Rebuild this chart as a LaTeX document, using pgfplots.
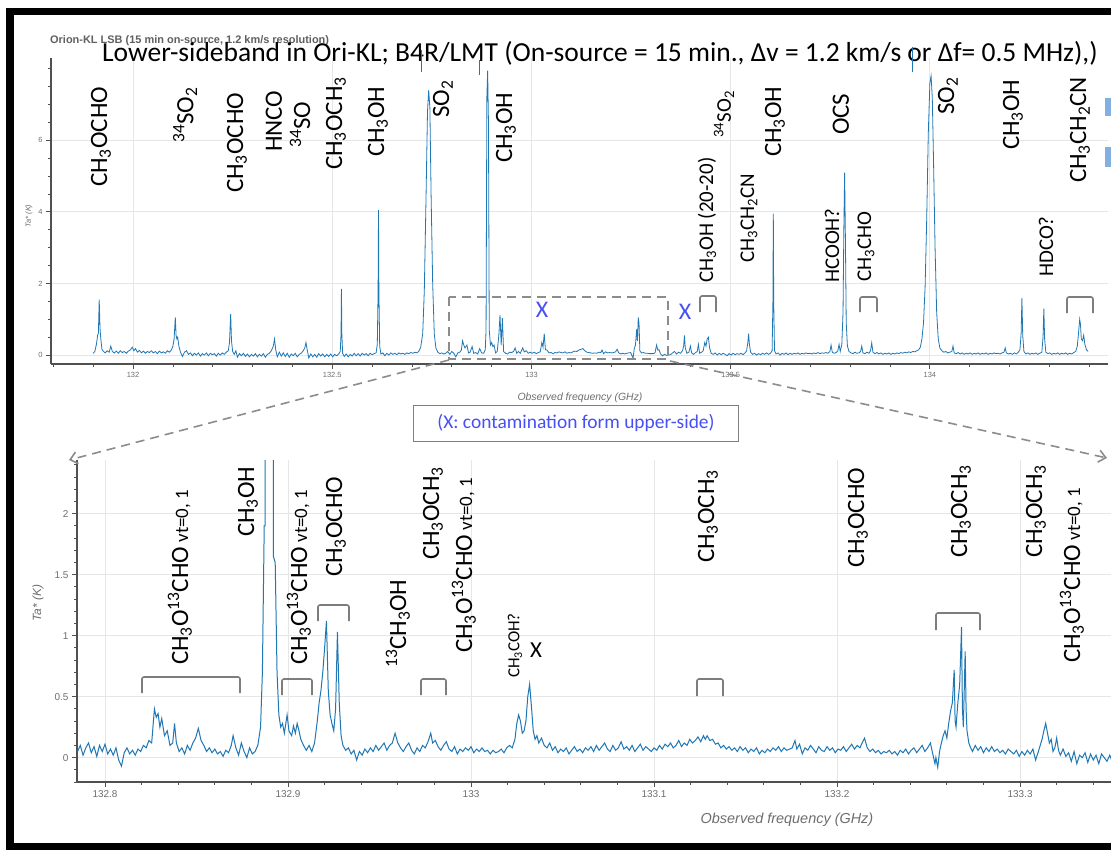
\documentclass[border=0pt]{standalone}
\usepackage{pgfplots}
\pgfplotsset{compat=1.18}
\usepackage{fontspec}
\setmainfont{Carlito}
\newfontfamily\hv{Liberation Sans}
\usetikzlibrary{arrows.meta}
\definecolor{spec}{RGB}{31,119,180}
\definecolor{xblue}{RGB}{70,80,245}
\definecolor{brk}{RGB}{125,125,125}
\definecolor{axgray}{RGB}{80,80,80}
\definecolor{gridc}{RGB}{230,230,230}
\definecolor{tlab}{RGB}{110,110,110}
\newcommand{\sm}[1]{\textsubscript{#1}}
\newcommand{\su}[1]{\textsuperscript{#1}}
\newcommand{\LF}{\fontsize{25}{25}\selectfont}
\newcommand{\VL}[3]{\node[rotate=90,anchor=west,inner sep=0pt,font=\LF] at (#1,#2) {#3};}
\newcommand{\VS}[3]{\node[rotate=90,anchor=west,inner sep=0pt,font=\fontsize{21}{21}\selectfont] at (#1,#2) {#3};}
\newcommand{\VT}{{\fontsize{19}{19}\selectfont\ vt=0, 1}}
\newcommand{\BR}[4]{\draw[brk,line width=1.6bp,rounded corners=2bp] (#1,#4) -- (#1,#3) -- (#2,#3) -- (#2,#4);}
\pgfplotsset{
  bk/.style={
    scale only axis,
    axis x line*=bottom, axis y line*=left,
    axis line style={axgray, line width=1.3bp},
    tick align=outside,
    major tick length=5bp, minor tick length=3bp,
    every tick/.style={axgray, line width=0.8bp},
    grid=major, major grid style={gridc, line width=0.9bp},
    tick label style={text=tlab},
    /pgf/number format/assume math mode=true,
    /pgf/number format/fixed, /pgf/number format/precision=1,
    /pgf/number format/1000 sep={},
  },
}
\begin{document}
\begin{tikzpicture}
\useasboundingbox (0,0) rectangle (1111bp,-850bp);
\fill[white] (0,0) rectangle (1111bp,-850bp);
% ---------------- top spectrum
\begin{axis}[bk, at={(51bp,-364bp)}, anchor=south west, width=1057bp, height=306bp,
  xmin=131.794, xmax=134.447, ymin=-0.25, ymax=8.3,
  xtick={132,132.5,133,133.5,134},
  minor xtick={131.8,131.9,132.1,132.2,132.3,132.4,132.6,132.7,132.8,132.9,133.1,133.2,133.3,133.4,133.6,133.7,133.8,133.9,134.1,134.2,134.3,134.4},
  ytick={0,2,4,6},
  minor ytick={0.5,1,1.5,2.5,3,3.5,4.5,5,5.5,6.5,7,7.5,8},
  tick label style={font=\hv\fontsize{7.5}{8}\selectfont}]
\addplot[spec, line width=0.8bp] coordinates {
(131.900,0.05)(131.904,0.10)(131.908,0.30)(131.911,0.55)(131.913,0.62)(131.915,1.55)(131.917,0.75)(131.919,0.45)(131.922,0.15)(131.926,0.10)(131.930,0.06)(131.935,0.12)(131.940,0.08)(131.944,0.25)(131.948,0.10)(131.953,0.06)(131.958,0.11)(131.963,0.05)(131.968,0.12)(131.973,0.07)(131.978,0.10)(131.983,0.05)(131.988,0.11)(131.993,0.14)(131.998,0.22)(132.002,0.12)(132.006,0.18)(132.011,0.08)(132.016,0.13)(132.021,0.06)(132.026,0.11)(132.031,0.05)(132.036,0.10)(132.041,0.07)(132.046,0.12)(132.051,0.06)(132.056,0.10)(132.061,0.04)(132.066,0.11)(132.071,0.06)(132.076,0.09)(132.081,0.05)(132.086,0.12)(132.091,0.08)(132.096,0.14)(132.100,0.25)(132.103,0.45)(132.106,1.05)(132.108,0.55)(132.110,0.45)(132.112,0.50)(132.115,0.25)(132.119,0.08)(132.124,-0.04)(132.129,0.08)(132.134,0.12)(132.139,0.02)(132.144,0.06)(132.149,-0.02)(132.154,0.05)(132.159,0.00)(132.164,0.06)(132.169,-0.03)(132.174,0.04)(132.179,0.00)(132.184,0.06)(132.189,-0.02)(132.194,0.05)(132.199,0.01)(132.204,0.04)(132.209,-0.03)(132.214,0.05)(132.219,0.00)(132.224,0.06)(132.229,0.02)(132.234,0.08)(132.239,0.12)(132.242,0.35)(132.245,1.15)(132.247,0.40)(132.250,0.10)(132.254,0.02)(132.258,0.12)(132.262,-0.06)(132.267,0.04)(132.272,-0.02)(132.277,0.05)(132.282,-0.04)(132.287,0.03)(132.292,-0.05)(132.297,0.02)(132.302,-0.03)(132.307,0.04)(132.312,-0.05)(132.317,0.02)(132.322,-0.03)(132.327,0.04)(132.332,-0.06)(132.337,0.02)(132.342,0.05)(132.347,0.12)(132.352,0.25)(132.355,0.45)(132.358,0.15)(132.362,-0.05)(132.367,0.08)(132.372,-0.03)(132.377,0.06)(132.382,-0.04)(132.387,0.05)(132.392,-0.06)(132.397,0.03)(132.402,-0.02)(132.407,0.05)(132.412,-0.05)(132.417,0.02)(132.422,0.05)(132.427,0.12)(132.431,0.20)(132.434,0.35)(132.437,0.15)(132.441,-0.08)(132.446,0.03)(132.451,-0.05)(132.456,0.02)(132.461,-0.06)(132.466,0.04)(132.471,-0.03)(132.476,0.03)(132.481,-0.05)(132.486,0.02)(132.491,-0.04)(132.496,0.03)(132.501,-0.05)(132.506,0.02)(132.511,-0.02)(132.516,0.03)(132.520,0.10)(132.522,0.60)(132.523,1.85)(132.524,0.60)(132.526,0.05)(132.530,-0.04)(132.535,0.03)(132.540,-0.05)(132.545,0.02)(132.550,-0.03)(132.555,0.05)(132.560,-0.02)(132.565,0.04)(132.570,-0.03)(132.575,0.05)(132.580,0.00)(132.585,0.04)(132.590,-0.02)(132.595,0.05)(132.600,0.01)(132.605,0.04)(132.610,0.06)(132.613,0.30)(132.615,1.80)(132.616,4.05)(132.617,1.80)(132.619,0.25)(132.622,0.03)(132.627,0.06)(132.632,-0.02)(132.637,0.05)(132.642,0.00)(132.647,0.06)(132.652,0.02)(132.657,0.05)(132.662,0.01)(132.667,0.06)(132.672,0.03)(132.677,0.05)(132.682,0.02)(132.687,0.06)(132.692,0.04)(132.697,0.07)(132.702,0.05)(132.707,0.08)(132.712,0.06)(132.717,0.10)(132.722,0.22)(132.727,0.60)(132.731,1.80)(132.735,4.20)(132.739,6.80)(132.742,7.40)(132.745,6.90)(132.748,4.50)(132.752,2.00)(132.756,0.60)(132.760,0.20)(132.765,0.08)(132.770,0.04)(132.775,0.06)(132.780,0.03)
(132.785,0.05)(132.790,0.10)(132.795,0.02)(132.800,0.10)(132.805,0.05)(132.810,-0.05)(132.815,0.06)(132.820,0.08)(132.824,0.14)(132.827,0.40)(132.830,0.28)(132.833,0.20)(132.838,0.28)(132.842,0.06)(132.846,0.08)(132.851,0.24)(132.855,0.05)(132.860,0.07)(132.865,0.03)(132.870,0.18)(132.875,0.06)(132.880,0.05)(132.884,0.15)(132.886,0.70)(132.888,7.2)(132.890,7.95)(132.892,6.5)(132.894,0.70)(132.897,0.28)(132.900,0.35)(132.903,0.24)(132.906,0.28)(132.910,0.06)(132.914,0.10)(132.918,0.55)(132.921,1.12)(132.924,0.28)(132.927,1.03)(132.930,0.10)(132.935,0.05)(132.940,0.03)(132.945,0.08)(132.950,0.07)(132.955,0.10)(132.959,0.20)(132.963,0.05)(132.967,0.10)(132.972,0.05)(132.978,0.20)(132.982,0.09)(132.987,0.12)(132.992,0.05)(132.997,0.08)(133.002,0.05)(133.007,0.08)(133.012,0.04)(133.017,0.07)(133.022,0.09)(133.026,0.35)(133.029,0.22)(133.032,0.60)(133.035,0.15)(133.039,0.14)(133.044,0.06)(133.049,0.07)(133.054,0.04)(133.059,0.07)(133.064,0.06)(133.069,0.09)(133.074,0.07)(133.079,0.06)(133.084,0.09)(133.089,0.05)(133.094,0.07)(133.099,0.06)(133.104,0.09)(133.109,0.11)(133.114,0.10)(133.119,0.14)(133.124,0.16)(133.129,0.18)(133.134,0.12)(133.139,0.08)(133.144,0.07)(133.149,0.06)(133.154,0.05)(133.159,0.06)(133.164,0.05)(133.169,0.08)(133.174,0.07)(133.177,0.14)(133.181,0.04)(133.186,0.09)(133.191,0.06)(133.196,0.07)(133.201,0.06)(133.206,0.07)(133.211,0.09)(133.215,0.16)(133.219,0.06)(133.224,0.03)(133.229,0.05)(133.234,0.03)(133.239,0.05)(133.244,0.06)(133.249,0.07)(133.253,-0.04)(133.255,-0.08)(133.258,0.18)(133.261,0.28)(133.264,0.72)(133.266,0.40)(133.268,1.05)(133.270,0.87)(133.272,0.12)(133.276,0.06)(133.281,0.07)(133.286,0.05)(133.291,0.05)(133.296,0.04)(133.301,0.04)(133.306,0.04)(133.310,0.06)(133.314,0.28)(133.317,0.14)(133.320,0.15)(133.324,0.03)(133.329,-0.02)(133.334,0.02)(133.339,-0.01)(133.344,0.00)(133.349,0.01)
(133.354,0.06)(133.359,0.10)(133.364,0.03)(133.369,0.08)(133.374,0.05)(133.379,0.12)(133.382,0.25)(133.384,0.55)(133.386,0.20)(133.390,0.05)(133.395,0.08)(133.399,0.25)(133.402,0.06)(133.407,0.02)(133.412,0.07)(133.416,0.10)(133.419,0.30)(133.422,0.05)(133.427,0.08)(133.431,0.12)(133.435,0.35)(133.438,0.25)(133.441,0.45)(133.444,0.50)(133.447,0.20)(133.451,0.05)(133.456,0.02)(133.461,0.06)(133.466,0.00)(133.471,0.05)(133.476,0.01)(133.481,0.05)(133.486,0.02)(133.491,-0.02)(133.496,0.04)(133.501,0.00)(133.506,0.05)(133.511,0.01)(133.516,0.04)(133.521,0.02)(133.526,0.05)(133.531,0.01)(133.536,0.06)(133.540,0.12)(133.543,0.35)(133.545,0.60)(133.547,0.30)(133.550,0.08)(133.555,0.02)(133.560,0.05)(133.565,0.00)(133.570,0.04)(133.575,0.01)(133.580,0.05)(133.585,0.02)(133.590,0.06)(133.595,0.02)(133.600,0.05)(133.604,0.12)(133.606,1.50)(133.607,3.95)(133.608,1.50)(133.610,0.12)(133.614,0.03)(133.619,0.06)(133.624,0.00)(133.629,0.05)(133.634,0.02)(133.639,0.06)(133.644,0.01)(133.649,0.05)(133.654,0.02)(133.659,0.05)(133.664,0.03)(133.669,0.06)(133.674,0.02)(133.679,0.05)(133.684,0.03)(133.689,0.06)(133.694,0.04)(133.699,0.05)(133.704,0.03)(133.709,0.06)(133.714,0.04)(133.719,0.07)(133.724,0.04)(133.729,0.06)(133.734,0.05)(133.739,0.07)(133.744,0.05)(133.749,0.10)(133.752,0.28)(133.755,0.08)(133.760,0.05)(133.765,0.07)(133.769,0.12)(133.772,0.30)(133.775,0.10)(133.779,0.30)(133.782,1.20)(133.784,3.50)(133.786,5.10)(133.788,3.20)(133.790,0.90)(133.793,0.25)(133.797,0.10)(133.802,0.06)(133.807,0.04)(133.812,0.08)(133.816,0.05)(133.822,0.06)(133.826,0.10)(133.829,0.25)(133.832,0.06)(133.837,0.04)(133.842,0.08)(133.847,0.05)(133.851,0.12)(133.854,0.34)(133.857,0.08)(133.862,0.04)(133.867,0.07)(133.872,0.03)(133.877,0.06)(133.882,0.02)(133.887,0.05)(133.892,0.03)(133.897,0.06)(133.902,0.02)(133.907,0.05)(133.912,0.03)(133.917,0.06)(133.922,0.04)(133.927,0.07)(133.932,0.05)(133.937,0.08)(133.942,0.06)(133.947,0.09)(133.952,0.07)(133.957,0.10)(133.962,0.09)(133.967,0.12)(133.972,0.15)(133.976,0.22)(133.980,0.45)(133.984,0.90)(133.988,1.90)(133.992,3.80)(133.996,6.20)(134.000,7.60)(134.003,7.80)(134.006,7.20)(134.009,5.50)(134.013,3.00)(134.017,1.20)(134.021,0.45)(134.025,0.20)(134.030,0.12)(134.035,0.08)(134.040,0.10)(134.045,0.06)(134.050,0.08)(134.055,0.10)(134.058,0.25)(134.061,0.06)(134.066,0.04)(134.071,0.07)(134.076,0.03)(134.081,0.06)(134.086,0.02)(134.091,0.05)(134.096,0.03)(134.101,0.06)(134.106,0.02)(134.111,0.05)(134.116,0.03)(134.121,0.06)(134.126,0.02)(134.131,0.05)(134.136,0.03)(134.141,0.06)(134.146,0.02)(134.151,0.05)(134.156,0.03)(134.161,0.06)(134.166,0.04)(134.171,0.05)(134.176,0.03)(134.181,0.06)(134.186,0.08)(134.189,0.20)(134.192,0.06)(134.197,0.03)(134.202,0.05)(134.207,0.02)(134.212,0.06)(134.217,0.03)(134.222,0.08)(134.226,0.15)(134.229,0.60)(134.231,1.60)(134.233,0.55)(134.236,0.10)(134.241,0.03)(134.246,0.06)(134.251,0.02)(134.256,0.05)(134.261,0.03)(134.266,0.06)(134.271,0.02)(134.276,0.05)(134.281,0.08)(134.284,0.50)(134.286,1.30)(134.288,0.45)(134.291,0.08)(134.296,0.04)(134.301,0.06)(134.306,0.02)(134.311,0.05)(134.316,0.03)(134.321,0.06)(134.326,0.02)(134.331,0.05)(134.336,0.03)(134.341,0.06)(134.346,0.02)(134.351,0.05)(134.356,0.03)(134.361,0.07)(134.366,0.10)(134.370,0.25)(134.373,0.60)(134.376,1.00)(134.378,0.85)(134.380,0.45)(134.383,0.40)(134.386,0.55)(134.389,0.30)(134.393,0.15)(134.397,0.10)
};
\end{axis}
% ---------------- bottom zoom
\begin{axis}[bk, at={(77bp,-782bp)}, anchor=south west, width=1034bp, height=322bp,
  xmin=132.7847, xmax=133.3497, ymin=-0.2, ymax=2.44,
  xtick={132.8,132.9,133,133.1,133.2,133.3},
  minor xtick={132.82,132.84,132.86,132.88,132.92,132.94,132.96,132.98,133.02,133.04,133.06,133.08,133.12,133.14,133.16,133.18,133.22,133.24,133.26,133.28,133.32,133.34},
  ytick={0,0.5,1,1.5,2},
  minor ytick={-0.2,-0.1,0.1,0.2,0.3,0.4,0.6,0.7,0.8,0.9,1.1,1.2,1.3,1.4,1.6,1.7,1.8,1.9,2.1,2.2,2.3,2.4},
  tick label style={font=\hv\fontsize{10}{11}\selectfont}]
\addplot[spec, line width=1bp] coordinates {
(132.785,0.05)(132.7865,0.10)(132.788,0.02)(132.7895,0.08)(132.791,0.12)(132.7925,0.04)(132.794,0.09)(132.7955,0.01)(132.797,0.10)(132.7985,0.05)(132.800,0.11)(132.8015,0.03)(132.803,0.07)(132.8045,0.02)(132.806,0.08)(132.8075,-0.02)(132.809,-0.07)(132.8105,0.04)(132.812,0.08)(132.8135,0.03)(132.815,0.06)(132.8165,0.02)(132.818,0.07)(132.8195,0.05)(132.821,0.10)(132.8225,0.08)(132.824,0.14)(132.8255,0.12)(132.827,0.40)(132.828,0.33)(132.829,0.36)(132.830,0.25)(132.831,0.32)(132.8325,0.18)(132.834,0.22)(132.8355,0.10)(132.837,0.12)(132.838,0.28)(132.839,0.12)(132.8405,0.05)(132.842,0.08)(132.8435,0.03)(132.845,0.10)(132.8465,0.06)(132.848,0.12)(132.8495,0.16)(132.851,0.24)(132.8525,0.14)(132.854,0.10)(132.8555,0.05)(132.857,0.08)(132.8585,0.04)(132.860,0.07)(132.8615,0.03)(132.863,0.05)(132.8645,0.01)(132.866,0.06)(132.8675,0.04)(132.869,0.10)(132.870,0.18)(132.8715,0.08)(132.873,0.02)(132.8745,0.12)(132.876,0.05)(132.8775,0.00)(132.879,0.08)(132.8805,0.03)(132.882,0.05)(132.8835,0.10)(132.885,0.25)(132.886,0.70)(132.887,1.90)(132.8875,1.90)(132.888,7.9)(132.8915,7.9)(132.892,1.65)(132.893,1.60)(132.894,0.70)(132.895,0.35)(132.896,0.25)(132.897,0.28)(132.898,0.20)(132.8995,0.35)(132.9005,0.22)(132.902,0.18)(132.903,0.26)(132.904,0.20)(132.905,0.28)(132.906,0.22)(132.907,0.15)(132.9085,0.10)(132.910,0.06)(132.9115,0.10)(132.913,0.05)(132.9145,0.12)(132.916,0.30)(132.917,0.45)(132.918,0.55)(132.919,0.70)(132.920,0.90)(132.921,1.12)(132.922,0.55)(132.923,0.35)(132.924,0.28)(132.925,0.22)(132.926,0.40)(132.927,1.03)(132.928,0.45)(132.929,0.18)(132.930,0.10)(132.9315,0.06)(132.933,0.08)(132.9345,0.03)(132.936,0.06)(132.9375,-0.02)(132.939,0.05)(132.9405,0.02)(132.942,0.07)(132.9435,0.04)(132.945,0.08)(132.9465,0.05)(132.948,0.10)(132.9495,0.06)(132.951,0.09)(132.9525,0.12)(132.954,0.06)(132.9555,0.10)(132.957,0.12)(132.9585,0.20)(132.960,0.12)(132.9615,0.08)(132.963,0.05)(132.9645,0.09)(132.966,0.12)(132.9675,0.06)(132.969,0.03)(132.9705,0.08)(132.972,0.05)(132.9735,0.10)(132.975,0.08)(132.9765,0.13)(132.978,0.20)(132.979,0.12)(132.9805,0.14)(132.982,0.09)(132.9835,0.06)(132.985,0.10)(132.9865,0.13)(132.988,0.07)(132.9895,0.05)(132.991,0.09)(132.9925,0.03)(132.994,0.07)(132.9955,0.05)(132.997,0.08)(132.9985,0.06)(133.000,0.09)(133.0015,0.04)(133.003,0.07)(133.0045,0.05)(133.006,0.08)(133.0075,0.05)(133.009,0.06)(133.0105,0.03)(133.012,0.06)(133.0135,0.04)(133.015,0.05)(133.0165,0.07)(133.018,0.04)(133.0195,0.08)(133.021,0.10)(133.0225,0.08)(133.024,0.15)(133.025,0.28)(133.026,0.35)(133.027,0.30)(133.028,0.20)(133.029,0.22)(133.030,0.30)(133.031,0.50)(133.032,0.60)(133.033,0.42)(133.034,0.22)(133.035,0.15)(133.036,0.18)(133.037,0.12)(133.0385,0.16)(133.040,0.10)(133.0415,0.08)(133.043,0.12)(133.0445,0.06)(133.046,0.09)(133.0475,0.04)(133.049,0.07)(133.0505,0.05)(133.052,0.08)(133.0535,0.03)(133.055,0.06)(133.0565,0.09)(133.058,0.05)(133.0595,0.07)(133.061,0.04)(133.0625,0.08)(133.064,0.06)(133.0655,0.09)(133.067,0.05)(133.0685,0.10)(133.070,0.06)(133.0715,0.09)(133.073,0.12)(133.0745,0.07)(133.076,0.05)(133.0775,0.10)(133.079,0.06)(133.0805,0.08)(133.082,0.13)(133.0835,0.07)(133.085,0.09)(133.0865,0.06)(133.088,0.10)(133.0895,0.05)(133.091,0.08)(133.0925,0.11)(133.094,0.06)(133.0955,0.09)(133.097,0.07)(133.0985,0.05)(133.100,0.08)(133.1015,0.06)(133.103,0.10)(133.1045,0.07)(133.106,0.11)(133.1075,0.09)(133.109,0.12)(133.1105,0.08)(133.112,0.10)(133.1135,0.14)(133.115,0.09)(133.1165,0.12)(133.118,0.10)(133.1195,0.15)(133.121,0.12)(133.1225,0.14)(133.124,0.17)(133.1255,0.13)(133.127,0.18)(133.128,0.15)(133.129,0.18)(133.1305,0.14)(133.132,0.15)(133.1335,0.11)(133.135,0.12)(133.1365,0.08)(133.138,0.10)(133.1395,0.07)(133.141,0.09)(133.1425,0.06)(133.144,0.08)(133.1455,0.05)(133.147,0.09)(133.1485,0.06)(133.150,0.08)(133.1515,0.04)(133.153,0.07)(133.1545,0.05)(133.156,0.08)(133.1575,0.03)(133.159,0.06)(133.1605,0.04)(133.162,0.07)(133.1635,0.05)(133.165,0.08)(133.1665,0.06)(133.168,0.09)(133.1695,0.05)(133.171,0.08)(133.1725,0.06)(133.174,0.07)(133.1755,0.08)(133.177,0.14)(133.178,0.07)(133.1795,0.11)(133.181,0.03)(133.1825,0.08)(133.184,0.06)(133.1855,0.10)(133.187,0.07)(133.1885,0.04)(133.190,0.09)(133.1915,0.06)(133.193,0.05)(133.1945,0.09)(133.196,0.06)(133.1975,0.08)(133.199,0.04)(133.2005,0.07)(133.202,0.06)(133.2035,0.09)(133.205,0.05)(133.2065,0.08)(133.208,0.11)(133.2095,0.07)(133.211,0.10)(133.2125,0.08)(133.214,0.13)(133.215,0.16)(133.2165,0.08)(133.218,0.05)(133.2195,0.07)(133.221,0.04)(133.2225,0.06)(133.224,0.03)(133.2255,0.05)(133.227,0.04)(133.2285,0.06)(133.230,0.03)(133.2315,0.05)(133.233,0.02)(133.2345,0.06)(133.236,0.04)(133.2375,0.07)(133.239,0.03)(133.2405,0.06)(133.242,0.08)(133.2435,0.04)(133.245,0.07)(133.2465,0.10)(133.248,0.05)(133.2495,0.08)(133.251,0.12)(133.252,0.05)(133.2535,-0.05)(133.254,0.00)(133.255,-0.08)(133.256,0.05)(133.257,0.12)(133.258,0.18)(133.259,0.22)(133.260,0.16)(133.261,0.28)(133.262,0.38)(133.263,0.45)(133.264,0.72)(133.2645,0.30)(133.265,0.25)(133.266,0.45)(133.267,0.60)(133.268,1.07)(133.2685,0.40)(133.269,0.25)(133.270,0.87)(133.2705,0.40)(133.271,0.22)(133.272,0.12)(133.273,0.08)(133.274,0.05)(133.2755,0.10)(133.277,0.06)(133.2785,0.09)(133.280,0.04)(133.2815,0.08)(133.283,0.05)(133.2845,0.09)(133.286,0.05)(133.2875,0.07)(133.289,0.04)(133.2905,0.06)(133.292,0.03)(133.2935,0.07)(133.295,0.05)(133.2965,0.03)(133.298,0.06)(133.2995,0.01)(133.301,0.05)(133.3025,0.02)(133.304,0.06)(133.3055,0.03)(133.307,0.07)(133.3085,-0.02)(133.310,0.05)(133.311,0.10)(133.312,0.15)(133.313,0.22)(133.314,0.28)(133.315,0.20)(133.316,0.12)(133.317,0.15)(133.318,0.05)(133.319,0.08)(133.320,0.16)(133.321,0.06)(133.322,0.02)(133.3235,0.07)(133.325,0.01)(133.3265,0.04)(133.328,-0.03)(133.3295,0.05)(133.331,-0.05)(133.3325,0.02)(133.334,0.00)(133.3355,0.04)(133.337,-0.04)(133.3385,0.03)(133.340,-0.02)(133.3415,0.02)(133.343,-0.05)(133.3445,0.03)(133.346,0.00)(133.3475,-0.03)(133.349,0.02)(133.3505,-0.04)(133.352,0.01)
};
\end{axis}
% ---------------- overlay annotations (pixel frame, y downwards)
\begin{scope}[x=1bp,y=-1bp]
% outer frame
\draw[black, line width=7bp] (1130,11.5) -- (10,11.5) -- (10,846) -- (1130,846);
% header texts
\node[anchor=base west,inner sep=0pt,font=\hv\bfseries\fontsize{11}{11}\selectfont,text=gray!75!black] at (50,43) {Orion-KL LSB (15 min on-source, 1.2 km/s resolution)};
\node[anchor=base west,inner sep=0pt,font=\fontsize{27.6}{28}\selectfont] at (102,61) {Lower-sideband in Ori-KL; B4R/LMT (On-source = 15 min., Δv = 1.2 km/s or Δf= 0.5 MHz),)};
% stray marks
\draw[spec, line width=0.8bp] (421,50) -- (421,72);
\draw[spec, line width=0.8bp] (479,60) -- (479,75);
\draw[spec, line width=0.8bp] (912,47) -- (912,72);
\fill[cyan!60!blue!50] (1105,98) rectangle (1111,116);
\fill[cyan!60!blue!50] (1105,147) rectangle (1111,167);
% axis titles
\node[font=\hv\itshape\fontsize{7.5}{8}\selectfont,text=tlab,rotate=90] at (29,216) {Ta* (K)};
\node[font=\hv\itshape\fontsize{10.5}{11}\selectfont,text=tlab] at (580,398) {Observed frequency (GHz)};
\node[font=\hv\itshape\fontsize{12}{12}\selectfont,text=tlab,rotate=90] at (38,603) {Ta* (K)};
\node[font=\hv\itshape\fontsize{14.5}{15}\selectfont,text=tlab] at (787,820) {Observed frequency (GHz)};
% top labels
\VL{101}{187}{CH\sm{3}OCHO}
\VL{185}{143}{\su{34}SO\sm{2}}
\VL{237}{193}{CH\sm{3}OCHO}
\VL{274}{152}{HNCO}
\VL{300}{148}{\su{34}SO}
\VL{336}{170}{CH\sm{3}OCH\sm{3}}
\VL{378}{157}{CH\sm{3}OH}
\VL{443}{118}{SO\sm{2}}
\VL{506}{163}{CH\sm{3}OH}
\VS{707}{283}{CH\sm{3}OH (20-20)}
\VS{724}{138}{\su{34}SO\sm{2}}
\VS{749}{263}{CH\sm{3}CH\sm{2}CN}
\VL{775}{157}{CH\sm{3}OH}
\VL{841}{135}{OCS}
\VS{832}{283}{HCOOH?}
\VS{866}{282}{CH\sm{3}CHO}
\VL{948}{115}{SO\sm{2}}
\VL{1013}{150}{CH\sm{3}OH}
\VS{1046}{277}{HDCO?}
\VL{1080}{183}{CH\sm{3}CH\sm{2}CN}
% top brackets
\BR{700}{716}{296}{312}
\BR{860}{877}{297}{312}
\BR{1067}{1093}{297}{313}
% contamination marks
\node[font=\fontsize{24}{24}\selectfont,text=xblue] at (542,310) {X};
\node[font=\fontsize{24}{24}\selectfont,text=xblue] at (685,312) {X};
% zoom box and arrows
\draw[gray!90, line width=1.6bp, dash pattern=on 9bp off 6bp] (449,297) rectangle (668,359);
\draw[gray!90, line width=1.6bp, dash pattern=on 9bp off 6bp, -{Straight Barb[length=7bp,width=12bp]}] (449,360) -- (69,460);
\draw[gray!90, line width=1.6bp, dash pattern=on 9bp off 6bp, -{Straight Barb[length=7bp,width=12bp]}] (670,361) -- (1107,458);
% info box
\draw[gray, line width=1bp, fill=white] (413,405) rectangle (738,441);
\node[font=\fontsize{19.5}{20}\selectfont,text=xblue] at (576,423) {(X: contamination form upper-side)};
% bottom labels
\VL{180}{665}{CH\sm{3}O\su{13}CHO\VT}
\VL{248}{537}{CH\sm{3}OH}
\VL{299}{665}{CH\sm{3}O\su{13}CHO\VT}
\VL{336}{577}{CH\sm{3}OCHO}
\VL{398}{668}{\su{13}CH\sm{3}OH}
\VL{433}{560}{CH\sm{3}OCH\sm{3}}
\VL{464}{653}{CH\sm{3}O\su{13}CHO\VT}
\node[rotate=90,anchor=west,inner sep=0pt,font=\fontsize{17}{17}\selectfont] at (515,678) {CH\sm{3}COH?};
\node[font=\fontsize{23}{23}\selectfont] at (536,650) {X};
\VL{708}{563}{CH\sm{3}OCH\sm{3}}
\VL{858}{568}{CH\sm{3}OCHO}
\VL{961}{558}{CH\sm{3}OCH\sm{3}}
\VL{1036}{558}{CH\sm{3}OCH\sm{3}}
\VL{1072}{663}{CH\sm{3}O\su{13}CHO\VT}
% bottom brackets
\BR{142}{240}{677}{693}
\BR{282}{312}{679}{695}
\BR{318}{349}{605}{621}
\BR{421}{446}{679}{695}
\BR{697}{723}{679}{696}
\BR{936}{980}{613}{630}
\end{scope}
\end{tikzpicture}
\end{document}
